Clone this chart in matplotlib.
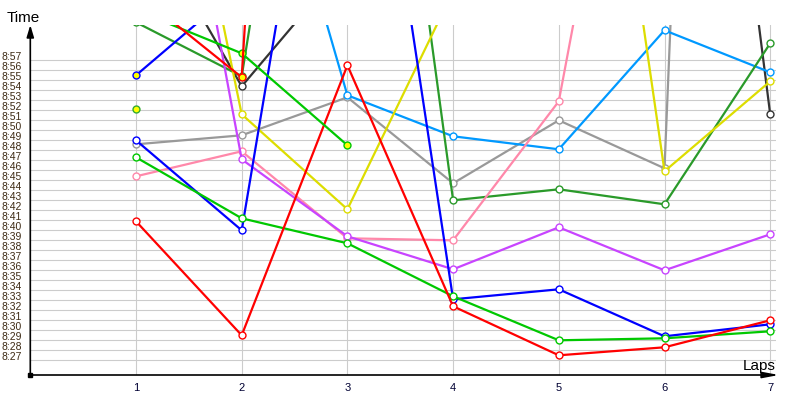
import matplotlib
matplotlib.use('Agg')
import matplotlib.pyplot as plt
import matplotlib.transforms as mtrans
import numpy as np

nan = np.nan

# lap times, seconds past 8:00 (values above ~60 run off the top of the chart)
laps = [1, 2, 3, 4, 5, 6, 7]

red_a = [40.9, 29.5, 56.5, 32.4, 27.5, 28.3, 31.0]
red_b = [63.8, 55.3, 229, nan, nan, nan, nan]
dkgreen = [60.8, 55.4, 121, 43.0, 44.1, 42.6, 58.7]
blue_a = [49.0, 40.0, 103, 33.1, 34.1, 29.4, 30.6]
blue_b = [55.5, 64.5, nan, nan, nan, nan, nan]
purple = [104, 47.1, 39.4, 36.1, 40.3, 36.0, 39.6]
pink = [45.4, 47.9, 39.2, 39.0, 52.9, 109, nan]
yellow = [103, 51.6, 42.1, 63.9, 119, 45.9, 54.9]
grey = [48.6, 49.5, 53.3, 44.7, 51.0, 46.2, 300]
ltblue = [nan, 90, 53.5, 49.4, 48.1, 60.0, 55.8]
black = [72.8, 54.4, 66.9, 75, 90, 135, 51.6]
green_a = [47.3, 41.2, 38.7, 33.4, 29.0, 29.2, 29.9]
green_b = [62.0, 57.7, 48.5, nan, nan, nan, nan]
green_c = [52.1, nan, nan, nan, nan, nan, nan]

ytick_secs = list(range(27, 58))
ytick_labels = ['8:%02d' % s for s in ytick_secs]

plt.rcParams['font.family'] = ['Liberation Sans', 'DejaVu Sans']

fig = plt.figure(figsize=(8, 4), dpi=100)
W, H = 800, 400
ax = fig.add_axes([30.3 / W, 25 / H, (776 - 30.3) / W, 350 / H])

def line(vals, color, face='white', z=3):
	ax.plot(laps, vals, color=color, lw=1.6, marker='o', ms=5,
		mfc=face, mec=color, mew=1.0, zorder=z)

line(grey, '#999999')
line(black, '#333333')
line(ltblue, '#0099FF')
line(dkgreen, '#2A9A2A')
line(yellow, '#DDDD00')
line(pink, '#FF88AA')
line(purple, '#C844FF')
line(blue_a, '#0000FF')
line(green_a, '#00C800')
line(red_a, '#FF0000')
line(blue_b, '#0000FF', face='#FFFF00', z=4)
line(green_c, '#33AA33', face='#FFFF00', z=4)
line(green_b, '#00C800', face='#FFFF00', z=4)
line(red_b, '#FF0000', face='#FFFF00', z=4)

ax.set_xlim(0, (776 - 30.3) / 105.7)
ax.set_ylim(25.53, 60.53)
ax.set_xticks(laps)
ax.set_xticklabels([str(l) for l in laps])
ax.set_yticks(ytick_secs)
ax.set_yticklabels(ytick_labels)
ax.tick_params(axis='y', length=0, pad=6, labelsize=7.5, labelcolor='#3d2a14')
ax.tick_params(axis='x', length=0, pad=5.5, labelsize=8, labelcolor='#000033')
ax.grid(True, color='#CCCCCC', lw=0.8, zorder=0)
ax.set_axisbelow(True)
for s in ax.spines.values():
	s.set_visible(False)

# y labels sit a little above their gridlines
off = mtrans.ScaledTranslation(0, 4 / 100, fig.dpi_scale_trans)
for t in ax.yaxis.get_major_ticks():
	t.label1.set_transform(t.label1.get_transform() + off)

# axis arrows
ax.annotate('', xy=(30.3, 375), xytext=(30.3, 25), xycoords='figure pixels',
	textcoords='figure pixels',
	arrowprops=dict(arrowstyle='-|>,head_length=0.6,head_width=0.18',
		color='black', lw=1.2, mutation_scale=12, shrinkA=0, shrinkB=0))
ax.annotate('', xy=(779, 25), xytext=(30.3, 25), xycoords='figure pixels',
	textcoords='figure pixels',
	arrowprops=dict(arrowstyle='-|>,head_length=0.8,head_width=0.15',
		color='black', lw=1.2, mutation_scale=12, shrinkA=0, shrinkB=0))
fig.patches.append(plt.Rectangle((28.3 / W, 23 / H), 4 / W, 4 / H,
	transform=fig.transFigure, color='black', figure=fig))

fig.text(7 / W, 378 / H, 'Time', fontsize=11, va='baseline', ha='left')
fig.text(743 / W, 30 / H, 'Laps', fontsize=11, va='baseline', ha='left')

fig.savefig('out.png', dpi=100)
